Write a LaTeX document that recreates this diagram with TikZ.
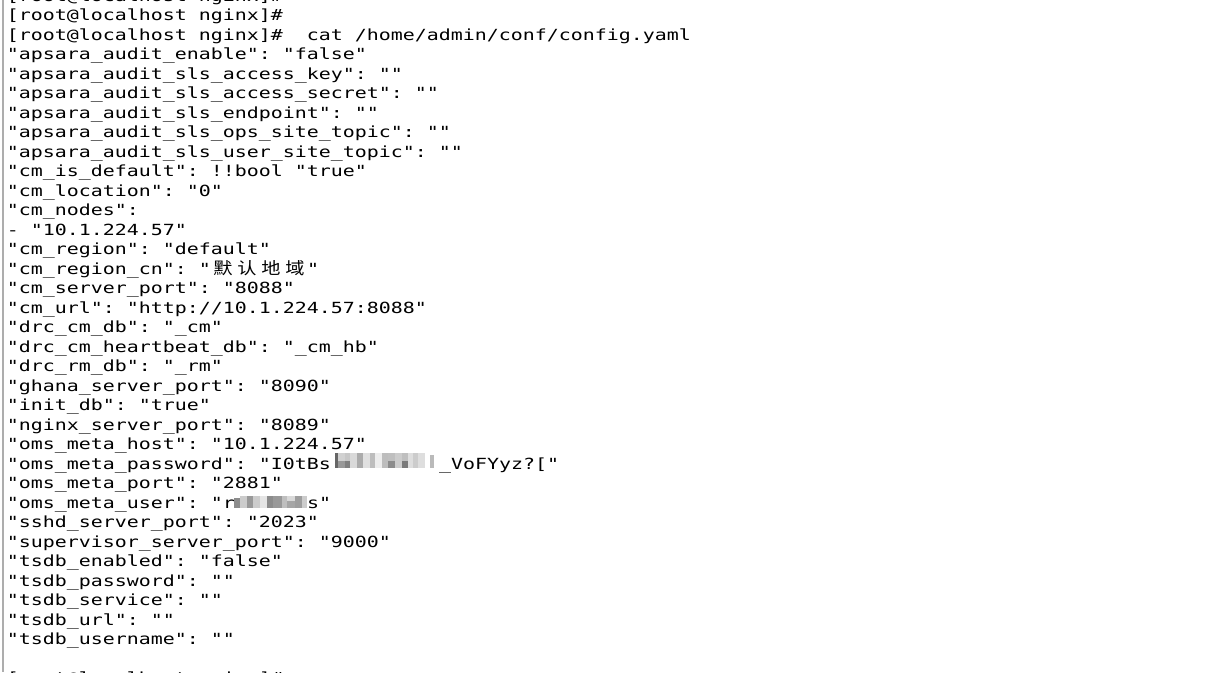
\documentclass[tikz,border=0pt]{standalone}
\usepackage{fontspec}
\newfontfamily\termfont[FakeStretch=1.30]{DejaVu Sans Mono}
\newfontfamily\cjkfont[FakeStretch=1.15]{Noto Sans CJK SC}
\newcommand\widechar[1]{\makebox[18pt][c]{\cjkfont\fontsize{12.5pt}{14pt}\selectfont #1}}
\frenchspacing
\tikzset{
  termline/.style={anchor=base west, inner sep=0pt, outer sep=0pt,
    font=\termfont\fontsize{11.5pt}{14pt}\selectfont\frenchspacing, text=black},
}
\begin{document}
\begin{tikzpicture}[x=0.75pt, y=-0.75pt]
                \useasboundingbox (0,0) rectangle (1206,672);
                \clip (0,0) rectangle (1206,672);
                \fill [white] (0,0) rectangle (1206,672);%

                % Window edge
                \draw [line width=1.5pt, color=black!32] (2.5,0) -- (2.5,672);%

                % Prompt lines
                \node [termline] (r0) at (7,1.0) {[root@localhost nginx]\#};%
                \node [termline] (r1) at (7,20.5) {[root@localhost nginx]\#};%
                \node [termline] (r2) at (7,40.0) {[root@localhost nginx]\#~~cat /home/admin/conf/config.yaml};%

                % Contents of config.yaml
                \node [termline] (r3) at (7,59.5) {"apsara\_audit\_enable": "false"};%
                \node [termline] (r4) at (7,79.0) {"apsara\_audit\_sls\_access\_key": ""};%
                \node [termline] (r5) at (7,98.5) {"apsara\_audit\_sls\_access\_secret": ""};%
                \node [termline] (r6) at (7,118.0) {"apsara\_audit\_sls\_endpoint": ""};%
                \node [termline] (r7) at (7,137.5) {"apsara\_audit\_sls\_ops\_site\_topic": ""};%
                \node [termline] (r8) at (7,157.0) {"apsara\_audit\_sls\_user\_site\_topic": ""};%
                \node [termline] (r9) at (7,176.5) {"cm\_is\_default": !!bool "true"};%
                \node [termline] (r10) at (7,196.0) {"cm\_location": "0"};%
                \node [termline] (r11) at (7,215.5) {"cm\_nodes":};%
                \node [termline] (r12) at (7,235.0) {- "10.1.224.57"};%
                \node [termline] (r13) at (7,254.5) {"cm\_region": "default"};%
                \node [termline] (r14) at (7,274.0) {"cm\_region\_cn": "\widechar{默}\widechar{认}\widechar{地}\widechar{域}"};%
                \node [termline] (r15) at (7,293.5) {"cm\_server\_port": "8088"};%
                \node [termline] (r16) at (7,313.0) {"cm\_url": "http://10.1.224.57:8088"};%
                \node [termline] (r17) at (7,332.5) {"drc\_cm\_db": "\_cm"};%
                \node [termline] (r18) at (7,352.0) {"drc\_cm\_heartbeat\_db": "\_cm\_hb"};%
                \node [termline] (r19) at (7,371.5) {"drc\_rm\_db": "\_rm"};%
                \node [termline] (r20) at (7,391.0) {"ghana\_server\_port": "8090"};%
                \node [termline] (r21) at (7,410.5) {"init\_db": "true"};%
                \node [termline] (r22) at (7,430.0) {"nginx\_server\_port": "8089"};%
                \node [termline] (r23) at (7,449.5) {"oms\_meta\_host": "10.1.224.57"};%
                \node [termline] (r24) at (7,469.0) {"oms\_meta\_password": "I0tBs\hspace*{81pt}\_VoFYyz?["};%
                \node [termline] (r25) at (7,488.5) {"oms\_meta\_port": "2881"};%
                \node [termline] (r26) at (7,508.0) {"oms\_meta\_user": "r\hspace*{54pt}s"};%
                \node [termline] (r27) at (7,527.5) {"sshd\_server\_port": "2023"};%
                \node [termline] (r28) at (7,547.0) {"supervisor\_server\_port": "9000"};%
                \node [termline] (r29) at (7,566.5) {"tsdb\_enabled": "false"};%
                \node [termline] (r30) at (7,586.0) {"tsdb\_password": ""};%
                \node [termline] (r31) at (7,605.5) {"tsdb\_service": ""};%
                \node [termline] (r32) at (7,625.0) {"tsdb\_url": ""};%
                \node [termline] (r33) at (7,644.5) {"tsdb\_username": ""};%
                \node [termline] (r35) at (7,683.5) {[root@localhost nginx]\#};%

                % Blurred part of the password
                \fill [black!60] (335,453) rectangle (338,468);%
                \fill [black!18] (338,453) rectangle (345,460.5);%
                \fill [black!40] (338,460.5) rectangle (345,468);%
                \fill [black!22] (345,453) rectangle (350,460.5);%
                \fill [black!50] (345,460.5) rectangle (350,468);%
                \fill [black!15] (350,453) rectangle (357,468);%
                \fill [black!33] (357,453) rectangle (363,468);%
                \fill [black!12] (363,453) rectangle (370,468);%
                \fill [black!26] (370,453) rectangle (375,468);%
                \fill [black!7] (375,453) rectangle (382,468);%
                \fill [black!26] (382,453) rectangle (388,468);%
                \fill [black!25] (388,453) rectangle (395,460.5);%
                \fill [black!45] (388,460.5) rectangle (395,468);%
                \fill [black!20] (395,453) rectangle (402,468);%
                \fill [black!25] (402,453) rectangle (408,460.5);%
                \fill [black!52] (402,460.5) rectangle (408,468);%
                \fill [black!13] (408,453) rectangle (413,468);%
                \fill [black!20] (413,453) rectangle (418,468);%
                \fill [black!13] (418,453) rectangle (425,468);%
                \fill [black!27] (430,455) rectangle (434,468);%

                % Blurred part of the user name
                \fill [black!45] (234,498) rectangle (240,508);%
                \fill [black!20] (240,496) rectangle (247,508);%
                \fill [black!40] (247,496) rectangle (253,508);%
                \fill [black!20] (253,496) rectangle (260,508);%
                \fill [black!10] (260,496) rectangle (267,508);%
                \fill [black!45] (267,496) rectangle (273,508);%
                \fill [black!40] (273,496) rectangle (282,508);%
                \fill [black!25] (282,496) rectangle (287,508);%
                \fill [black!15] (287,496) rectangle (295,501);%
                \fill [black!35] (287,501) rectangle (295,508);%
                \fill [black!38] (295,496) rectangle (302,508);%
                \fill [black!20] (302,496) rectangle (307,508);%
\end{tikzpicture}
\end{document}
